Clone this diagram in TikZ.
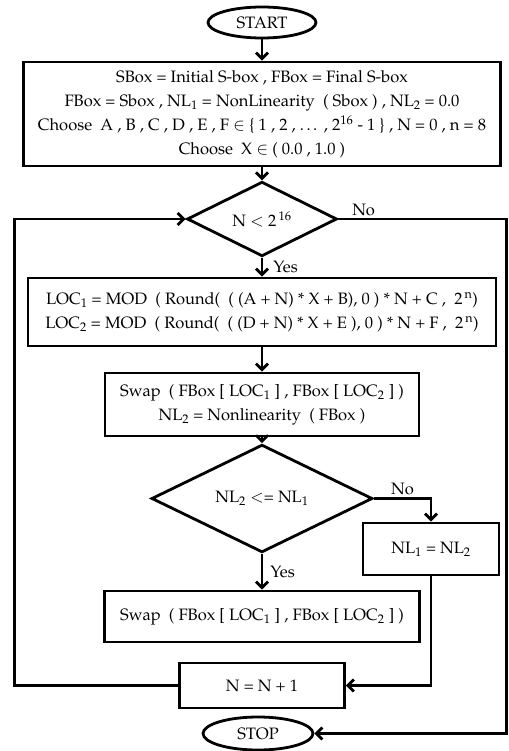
\documentclass[tikz,border=0pt]{standalone}
\usepackage[T1]{fontenc}
\usepackage{mathpazo}
\usepackage{tikz}
\usetikzlibrary{arrows.meta,shapes.geometric,positioning}

\tikzset{
  base/.style={draw,line width=2.8pt,inner sep=0pt,align=center,font=\fontsize{16.5}{24}\selectfont},
  proc/.style={base,rectangle},
  term/.style={base,ellipse},
  cond/.style={base,diamond},
  flow/.style={line width=2.8pt,->},
  lbl/.style={font=\fontsize{16.5}{24}\selectfont,inner sep=2pt}
}

\begin{document}
\begin{tikzpicture}[x=1pt,y=-1pt,>={Straight Barb[length=6pt,width=12pt]}]
  \useasboundingbox (0,0) rectangle (508,751);
  \node[term,minimum width=108pt,minimum height=31pt] (start) at (262,22.5) {START};
  \node[proc,minimum width=477pt,minimum height=104pt] (init) [below of=start,node distance=91.5pt]
    {SBox = Initial S-box , FBox = Final S-box\\
     FBox = Sbox , NL$_1$ = NonLinearity~ ( Sbox ) , NL$_2$ = 0.0\\
     Choose~ A , B , C , D , E , F $\in$ \{ 1 , 2 , \ldots\ , $2^{16}$ - 1 \} , N = 0 , n = 8\\
     Choose~ X $\in$ ( 0.0 , 1.0 )};
  \node[cond,minimum width=150pt,minimum height=58pt] (cond1) [below of=init,node distance=105pt] {N $<$ $2^{\,16}$};
  \node[proc,minimum width=468pt,minimum height=68pt] (loc) [below of=cond1,node distance=93pt]
    {LOC$_1$ = MOD ~( Round( ~( (A + N) * X + B), 0 ) * N + C ,~ $2^{\,\mathrm{n}}$)\\
     LOC$_2$ = MOD ~( Round( ~( (D + N) * X + E ), 0 ) * N + F ,~ $2^{\,\mathrm{n}}$)};
  \node[proc,minimum width=314pt,minimum height=63pt] (swap) [below of=loc,node distance=92.5pt]
    {Swap~ ( FBox [ LOC$_1$ ] , FBox [ LOC$_2$ ] )\\
     NL$_2$ = Nonlinearity~ ( FBox )};
  \node[cond,minimum width=221pt,minimum height=67pt] (cond2) [below of=swap,node distance=94pt] {NL$_2$ $<$= NL$_1$};
  \node[proc,minimum width=136pt,minimum height=52pt] (nlset) [right of=cond2,node distance=169pt,yshift=-50.5pt] {NL$_1$ = NL$_2$};
  \node[proc,minimum width=315pt,minimum height=51pt] (swap2) [below of=cond2,node distance=118pt]
    {Swap~ ( FBox [ LOC$_1$ ] , FBox [ LOC$_2$ ] )};
  \node[proc,minimum width=165pt,minimum height=45pt] (inc) [below of=swap2,node distance=69pt] {N = N + 1};
  \node[term,minimum width=110pt,minimum height=33pt] (stop) [below of=inc,node distance=48pt,xshift=-4pt] {STOP};
  \coordinate (lft) at (14.5,685.5);
  \coordinate (rgt) at (506.5,219);
  % main flow
  \draw[flow] (start) -- (init);
  \draw[flow] (init) -- (cond1);
  \draw[flow] (cond1) -- node[lbl,right=8pt] {Yes} (loc);
  \draw[flow] (loc) -- (swap);
  \draw[flow] (swap) -- (cond2);
  \draw[flow] (cond2) -- node[lbl,right=5pt] {Yes} (swap2);
  \draw[flow] (cond2.east) -- node[lbl,above] {No} (cond2.east -| nlset.north) -- (nlset.north);
  \draw[flow] (nlset.south) |- (inc.east);
  % loop back and exit
  \draw[flow] (inc.west) -- (lft) |- (cond1.west);
  \draw[flow] (cond1.east) -- node[lbl,above,pos=0.15] {No} (rgt) |- (stop.east);
\end{tikzpicture}
\end{document}
